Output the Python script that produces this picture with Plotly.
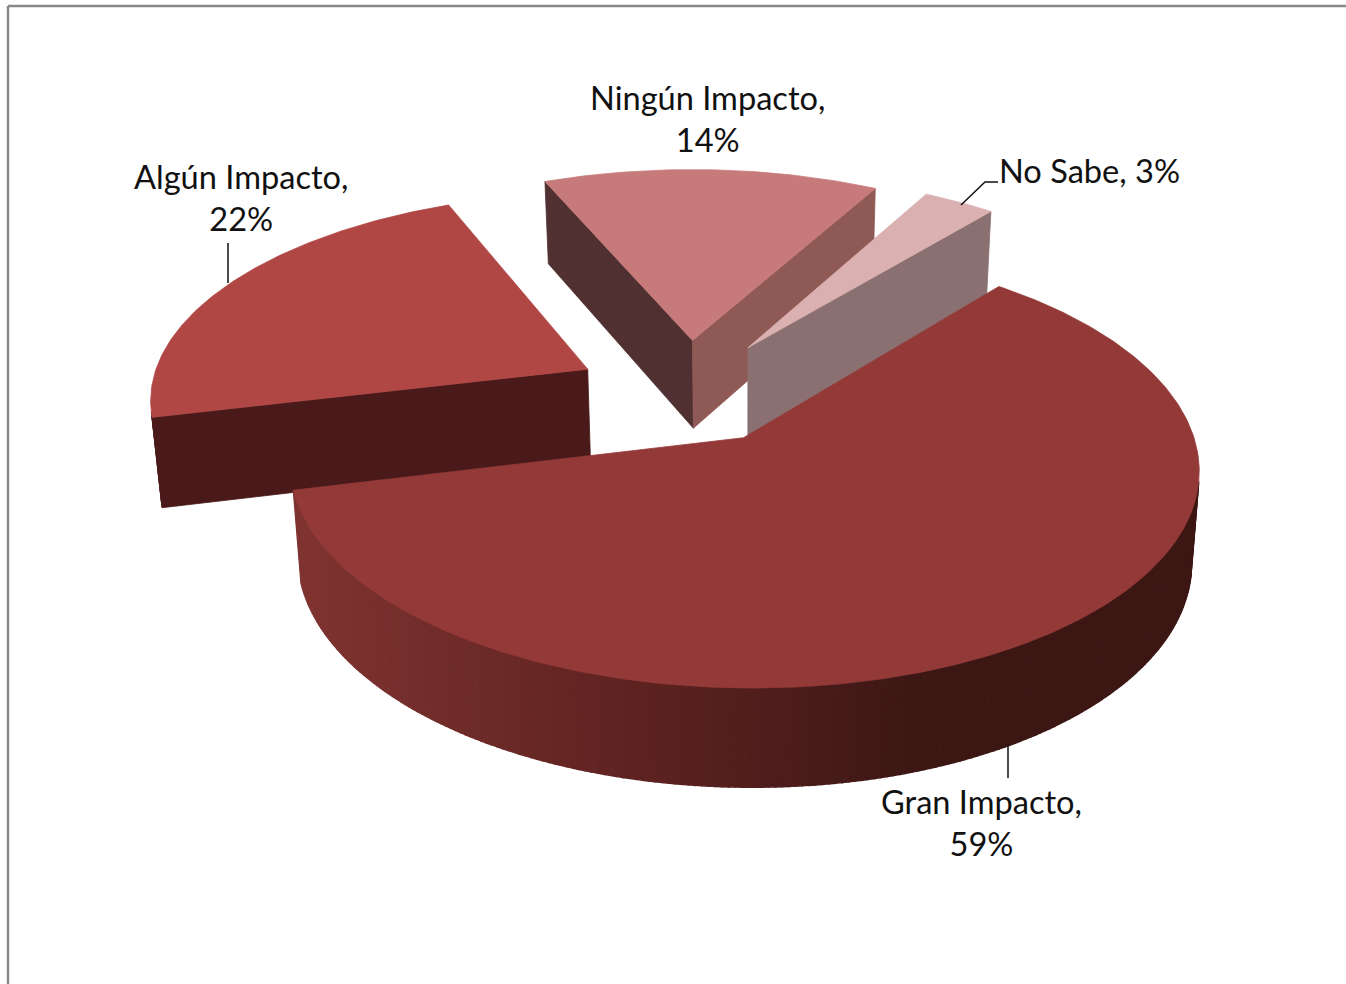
import math
import plotly.graph_objects as go

categories = ["Gran Impacto", "Algún Impacto", "Ningún Impacto", "No Sabe"]
values = [59, 22, 14, 3]

# --- styling and camera ---
top_colors = ["#933A38", "#B04745", "#C67A79", "#DAB0B0"]
start_wall = ["#7F3431", "#491A19", "#503030", "#8A7070"]
end_wall = ["#3C1714", "#491A19", "#8F5956", "#8A7070"]
arc_wall = [None, "#491A19", "#503030", "#8A7070"]
nudge = [-5, -5, -2, -1]
nudge_y = [1, 0, -2, -3]
START = 39.7
EXPLODE = 0.25
CX, CY, RX, RY, K = 689.0, 392.0, 438.0, 205.0, 0.13
DEPTH, BOTTOM_CX, BOTTOM_SCALE = 89.5, 745.0, 0.983
DRAW_ORDER = [2, 3, 1, 0]
label_pos = [(981, 822), (241, 197), (707, 118), (1089, 170)]
FONT = dict(family="Lato, Carlito, sans-serif", size=32.6, color="#111111")


def project(x, y, bottom, dx, dy):
    s = 1.0 / (1.0 + K * y)
    X = CX + RX * x * s + dx
    Y = CY - RY * y * s + dy
    if bottom:
        X = BOTTOM_CX + (X - BOTTOM_CX) * BOTTOM_SCALE
        Y += DEPTH * s ** 0.6
    return X, Y


def area(pts):
    t = 0.0
    for i in range(len(pts)):
        a, b = pts[i], pts[(i + 1) % len(pts)]
        t += a[0] * b[1] - b[0] * a[1]
    return t


def mix(x):
    stops = [(300, (0x7F, 0x34, 0x31)), (560, (0x65, 0x26, 0x24)), (760, (0x50, 0x1E, 0x1C)),
             (920, (0x3C, 0x17, 0x14)), (1200, (0x3C, 0x17, 0x14))]
    if x <= stops[0][0]:
        c = stops[0][1]
    else:
        c = stops[-1][1]
        for (x0, c0), (x1, c1) in zip(stops, stops[1:]):
            if x0 <= x <= x1:
                f = (x - x0) / (x1 - x0)
                c = tuple(round(p + (q - p) * f) for p, q in zip(c0, c1))
                break
    return "rgb(%d,%d,%d)" % c


fig = go.Figure()


def poly(pts, color, width=0.8):
    xs = [p[0] for p in pts] + [pts[0][0]]
    ys = [p[1] for p in pts] + [pts[0][1]]
    fig.add_trace(go.Scatter(x=xs, y=ys, mode="lines", fill="toself", fillcolor=color,
                             line=dict(color=color, width=width), hoverinfo="skip", showlegend=False))


total = sum(values)
spans = []
a = START
for v in values:
    b = a + 360.0 * v / total
    spans.append((a, b))
    a = b

for i in DRAW_ORDER:
    a0, b0 = spans[i]
    mid = math.radians((a0 + b0) / 2)
    ox, oy = EXPLODE * math.sin(mid), EXPLODE * math.cos(mid)
    dx, dy = nudge[i], nudge_y[i]
    n = max(8, int((b0 - a0) / 0.75))
    th = [math.radians(a0 + (b0 - a0) * j / n) for j in range(n + 1)]
    rim = [(ox + math.sin(t), oy + math.cos(t)) for t in th]
    apex = (ox, oy)

    def quad(p, q):
        return [project(p[0], p[1], False, dx, dy), project(q[0], q[1], False, dx, dy),
                project(q[0], q[1], True, dx, dy), project(p[0], p[1], True, dx, dy)]

    w = quad(apex, rim[0])
    if area(w) < 0:
        poly(w, start_wall[i])
    w = quad(rim[-1], apex)
    if area(w) < 0:
        poly(w, end_wall[i])
    for p, q in zip(rim, rim[1:]):
        w = quad(p, q)
        if area(w) < 0:
            if arc_wall[i]:
                poly(w, arc_wall[i])
            else:
                poly(w, mix((w[0][0] + w[1][0]) / 2), width=1.6)
    poly([project(apex[0], apex[1], False, dx, dy)] + [project(p[0], p[1], False, dx, dy) for p in rim],
         top_colors[i])

annotations = []
for c, v, (lx, ly) in zip(categories, values, label_pos):
    sep = " " if c == "No Sabe" else "<br>"
    annotations.append(dict(x=lx, y=ly, xref="x", yref="y", text=f"{c},{sep}{v}%", showarrow=False,
                            font=FONT, align="center", xanchor="center", yanchor="middle"))

grey = dict(color="#888888", width=2.5)
black = dict(color="#111111", width=1.5)
shapes = [
    dict(type="line", x0=8, y0=6, x1=1346, y1=6, line=grey),
    dict(type="line", x0=8, y0=6, x1=8, y1=984, line=grey),
    dict(type="line", x0=228, y0=243, x1=228, y1=283, line=black),
    dict(type="line", x0=1008, y0=745, x1=1008, y1=778, line=black),
    dict(type="path", path="M 961 205 L 985 182 L 998 182", line=black),
]

fig.update_layout(
    width=1346, height=984, margin=dict(l=0, r=0, t=0, b=0),
    paper_bgcolor="white", plot_bgcolor="white", showlegend=False,
    xaxis=dict(range=[0, 1346], visible=False, fixedrange=True),
    yaxis=dict(range=[984, 0], visible=False, fixedrange=True),
    annotations=annotations, shapes=shapes,
)
fig.write_html("out.html", config=dict(displayModeBar=False),
               post_script="document.body.style.margin='0';document.body.style.overflow='hidden';")
